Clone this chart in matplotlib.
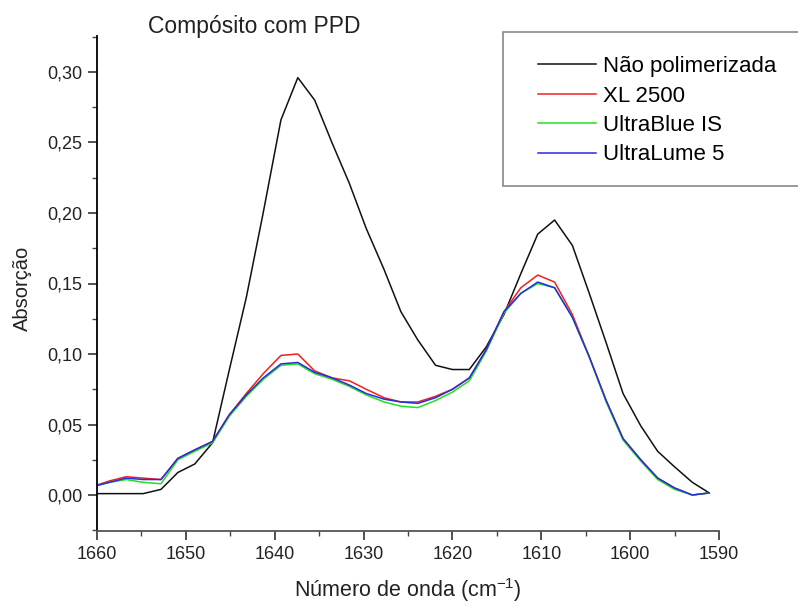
#!/usr/bin/env python3
"""
Compósito com PPD - FTIR absorption spectra (1660-1590 cm-1)
"""

import matplotlib
matplotlib.use("Agg")
import matplotlib.pyplot as plt
import matplotlib.patches as patches
from matplotlib.ticker import MultipleLocator, FuncFormatter

plt.rcParams['font.family'] = ['Liberation Sans', 'DejaVu Sans']
plt.rcParams['mathtext.fontset'] = 'custom'
plt.rcParams['mathtext.rm'] = 'Liberation Sans'
plt.rcParams['mathtext.it'] = 'Liberation Sans'

# wavenumber (cm-1)
wavenumber = [1660.5, 1658.6, 1656.7, 1654.8, 1652.8, 1650.9, 1649.0, 1647.0,
              1645.1, 1643.2, 1641.3, 1639.3, 1637.4, 1635.5, 1633.5, 1631.6,
              1629.7, 1627.7, 1625.8, 1623.9, 1621.9, 1620.0, 1618.1, 1616.2,
              1614.2, 1612.3, 1610.4, 1608.5, 1606.5, 1604.6, 1602.7, 1600.8,
              1598.8, 1596.9, 1595.0, 1593.0, 1591.1]

nao_polimerizada = [0.001, 0.001, 0.001, 0.001, 0.004, 0.016, 0.022, 0.037,
                    0.089, 0.140, 0.200, 0.266, 0.296, 0.280, 0.249, 0.221,
                    0.189, 0.160, 0.130, 0.110, 0.092, 0.089, 0.089, 0.105,
                    0.128, 0.157, 0.185, 0.195, 0.177, 0.143, 0.108, 0.072,
                    0.049, 0.031, 0.020, 0.009, 0.0015]

xl_2500 = [0.006, 0.010, 0.013, 0.012, 0.011, 0.026, 0.032, 0.038,
           0.057, 0.072, 0.086, 0.099, 0.100, 0.088, 0.083, 0.081,
           0.075, 0.069, 0.066, 0.066, 0.070, 0.075, 0.083, 0.103,
           0.130, 0.147, 0.156, 0.151, 0.128, 0.098, 0.067, 0.040,
           0.025, 0.012, 0.005, 0.000, 0.0015]

ultrablue_is = [0.006, 0.009, 0.011, 0.009, 0.008, 0.025, 0.031, 0.037,
                0.056, 0.070, 0.082, 0.092, 0.093, 0.086, 0.082, 0.077,
                0.071, 0.066, 0.063, 0.062, 0.067, 0.073, 0.081, 0.102,
                0.129, 0.143, 0.150, 0.147, 0.126, 0.098, 0.066, 0.039,
                0.024, 0.011, 0.004, 0.000, 0.0015]

ultralume_5 = [0.006, 0.009, 0.012, 0.011, 0.011, 0.026, 0.032, 0.038,
               0.057, 0.071, 0.083, 0.093, 0.094, 0.087, 0.083, 0.078,
               0.072, 0.068, 0.066, 0.065, 0.069, 0.075, 0.083, 0.103,
               0.130, 0.143, 0.151, 0.147, 0.126, 0.098, 0.067, 0.040,
               0.025, 0.012, 0.005, 0.000, 0.0015]

series_names = ['Não polimerizada', 'XL 2500', 'UltraBlue IS', 'UltraLume 5']
series_colors = ['#111111', '#f02020', '#20e020', '#2a2ae0']

fig = plt.figure(figsize=(7.98, 6.08), dpi=100)
ax = fig.add_axes([97 / 798, 1 - 531 / 608, (719 - 97) / 798, (531 - 36) / 608])

for values, name, color in zip([nao_polimerizada, xl_2500, ultrablue_is, ultralume_5],
                               series_names, series_colors):
    ax.plot(wavenumber, values, color=color, linewidth=1.1, label=name)

ax.set_xlim(1660, 1590)
ax.set_ylim(-0.0255, 0.3255)

ax.xaxis.set_major_locator(MultipleLocator(10))
ax.xaxis.set_minor_locator(MultipleLocator(5))
ax.yaxis.set_major_locator(MultipleLocator(0.05))
ax.yaxis.set_minor_locator(MultipleLocator(0.025))
ax.yaxis.set_major_formatter(FuncFormatter(lambda v, p: f"{v:.2f}".replace('.', ',')))

ax.spines['top'].set_visible(False)
ax.spines['right'].set_visible(False)
ax.spines['left'].set_linewidth(1.3)
ax.spines['bottom'].set_linewidth(1.3)
ax.spines['bottom'].set_color('#555555')
ax.tick_params(which='major', direction='out', length=6.5, width=1.1,
               labelsize=13, colors='#222222', pad=4)
ax.tick_params(which='minor', direction='out', length=3.5, width=1.0, colors='#444444')

ax.set_xlabel('Número de onda (cm$^{-1}$)', fontsize=15.5, color='#222222')
ax.xaxis.set_label_coords(0.5, -(597 - 531) / 495, transform=ax.transAxes)
ax.xaxis.label.set_va('baseline')
ax.set_ylabel('Absorção', fontsize=14.5, color='#222222')
ax.yaxis.set_label_coords(-(97 - 22) / 622, (531 - 288) / 495)
ax.yaxis.label.set_va('center')
fig.text(254 / 798, 1 - 27 / 608, 'Compósito com PPD', fontsize=16.5,
         ha='center', va='center', color='#222222')

# legend box runs off the right edge
box = patches.Rectangle((503 / 798, 1 - 186 / 608), 0.5, (186 - 32) / 608,
                        transform=fig.transFigure, facecolor='white',
                        edgecolor='#888888', linewidth=1.2, zorder=5)
fig.patches.append(box)
leg = fig.legend(loc='upper left', bbox_to_anchor=(527 / 798, 1 - 45 / 608),
                 frameon=False, fontsize=16, handlelength=2.6,
                 handletextpad=0.3, labelspacing=0.38, borderpad=0)
leg.set_zorder(6)

fig.savefig('out.png', dpi=100, facecolor='white')
